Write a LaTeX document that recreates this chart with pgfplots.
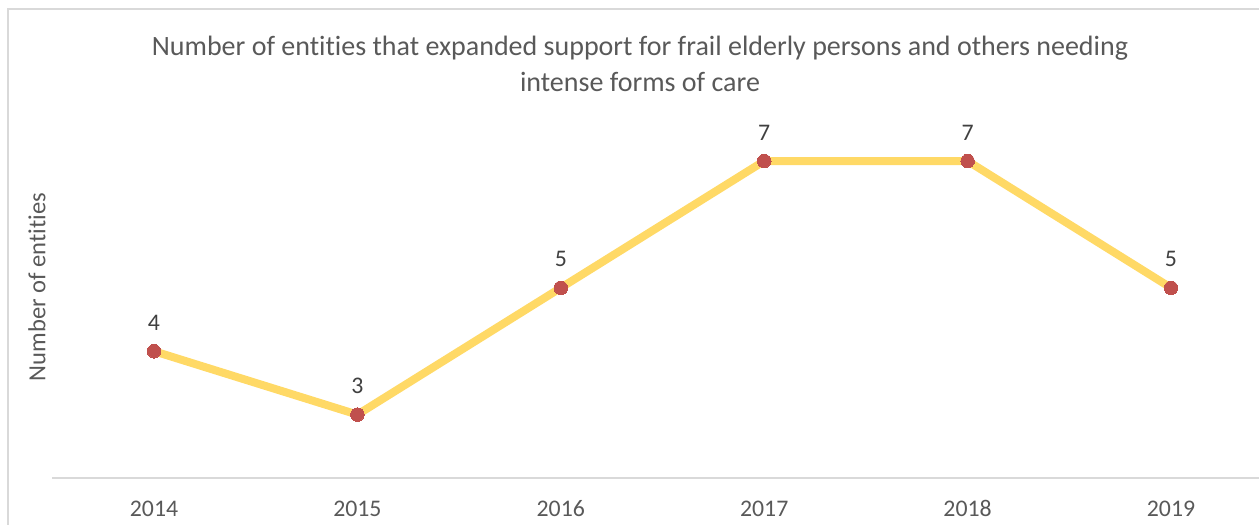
\documentclass[border=0pt]{standalone}
\usepackage{fontspec}
\setmainfont{Carlito}[Ligatures=NoCommon]
\usepackage{pgfplots}
\pgfplotsset{compat=1.18}
\definecolor{linegold}{HTML}{FFD966}
\definecolor{markred}{HTML}{C0504D}
\definecolor{txtgray}{HTML}{595959}
\definecolor{lblgray}{HTML}{404040}
\definecolor{framegray}{HTML}{D9D9D9}
\begin{document}
\begin{tikzpicture}
% picture is a crop of a wider chart: 1px = 0.5pt
\useasboundingbox (0,0) rectangle (629.5pt,-262.5pt);
\draw[framegray, line width=0.75pt] (4pt,-4.5pt) rectangle (660pt,-290pt);
\begin{axis}[
  at={(26.15pt,-239pt)}, anchor=south west,
  scale only axis, width=610.2pt, height=190.2pt,
  xmin=-0.5, xmax=5.5, ymin=2, ymax=8,
  axis x line*=bottom, axis y line=none,
  x axis line style={draw=framegray, line width=1pt, -},
  xtick={0,1,2,3,4,5},
  xticklabels={2014,2015,2016,2017,2018,2019},
  major tick length=0pt,
  xticklabel style={font=\fontsize{11.9}{14}\selectfont, text=txtgray, anchor=base, yshift=-19.3pt},
  ytick=\empty,
  nodes near coords,
  nodes near coords style={font=\fontsize{11.9}{14}\selectfont, text=lblgray, anchor=base, yshift=10.5pt},
  /pgf/number format/assume math mode=true,
  clip=false,
]
\addplot[linegold, line width=4pt, line join=round, line cap=round,
  mark=*, mark size=3.4pt, mark options={fill=markred, draw=markred, line width=0pt}]
  coordinates {(0,4) (1,3) (2,5) (3,7) (4,7) (5,5)};
\end{axis}
\node[anchor=base, text=txtgray, font=\fontsize{14}{17}\selectfont] at (320pt,-27.85pt)
  {Number of entities that expanded support for frail elderly persons and others needing};
\node[anchor=base, text=txtgray, font=\fontsize{14}{17}\selectfont] at (320pt,-45.5pt)
  {intense forms of care};
\node[rotate=90, text=txtgray, font=\fontsize{12.3}{14}\selectfont] at (18.5pt,-143.5pt)
  {Number of entities};
\end{tikzpicture}
\end{document}
